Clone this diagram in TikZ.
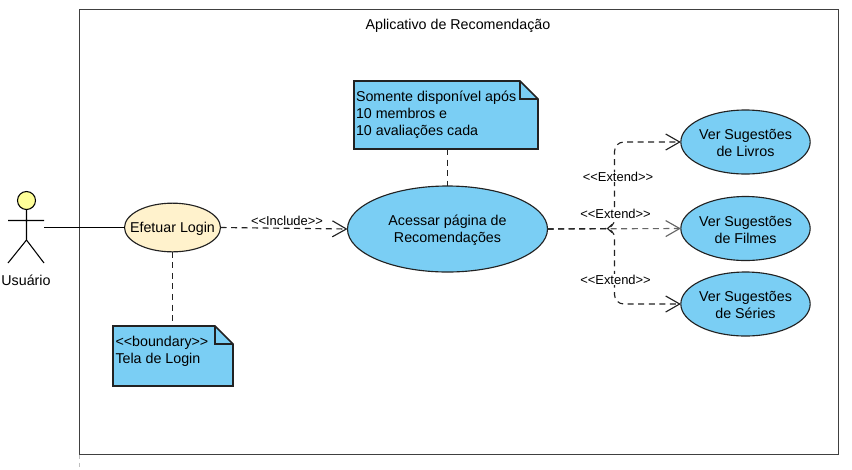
\documentclass[tikz,border=0pt]{standalone}
\usepackage{fontspec}
\setmainfont{Liberation Sans}
\usetikzlibrary{shapes.geometric,arrows.meta,calc}
\definecolor{ucblue}{HTML}{7ACEF4}
\definecolor{ucyellow}{HTML}{FFF2CC}
\definecolor{headyellow}{HTML}{FFFF99}
\definecolor{linegrey}{HTML}{222222}
\tikzset{
  x=0.75pt,y=-0.75pt,
  every node/.style={font=\fontsize{10.7pt}{12.9pt}\selectfont,inner sep=0pt,outer sep=0pt,text=black},
  usecase/.style={ellipse,draw=linegrey,line width=0.85pt,fill=ucblue},
  uctext/.style={label={[yshift=-0.8pt,align=center]center:#1}},
  notebody/.style={rectangle,fill=ucblue,align=left,anchor=north west},
  noteline/.style={draw=linegrey,line width=1.2pt,line join=miter},
  small/.style={font=\fontsize{9.7pt}{11pt}\selectfont,fill=white,inner sep=0.5pt},
  dep/.style={draw=linegrey,line width=0.85pt,dash pattern=on 4.5pt off 3.4pt},
  greydep/.style={draw=black!60,line width=0.85pt,dash pattern=on 4.5pt off 3.4pt},
  openhead/.style={-{Straight Barb[length=10.5pt,width=12pt,line width=0.85pt]}},
}
\begin{document}
\begin{tikzpicture}
\useasboundingbox (0,0) rectangle (852,469);
% system frame
\draw[draw=black!75,line width=0.8pt] (79.5,9.5) rectangle (838.5,454.5);
\coordinate (frameBL) at (79.5,454.5);
\coordinate (frameEnd) at (79.5,469);
\draw[draw=black!25,line width=0.6pt,dash pattern=on 3pt off 3pt] (frameBL) -- (frameEnd);
\node (title) at (458,25.5) {Aplicativo de Recomendação};
% actor
\node[circle,draw=black,line width=0.8pt,fill=headyellow,minimum size=13.5pt] (head) at (26.5,200.5) {};
\coordinate (hip) at (26.5,240);
\coordinate (armL) at (8,220.5);
\coordinate (armR) at (44,220.5);
\coordinate (legL) at (8,263);
\coordinate (legR) at (44,263);
\coordinate (actorPort) at (44,227.5);
\draw[line width=0.8pt,line join=round] (head.south) -- (hip) (armL) -- (armR) (legL) -- (hip) -- (legR);
\node (actorlabel) at (26,280.5) {Usuário};
% use cases
\node[usecase,fill=ucyellow,minimum width=72pt,minimum height=36.5pt,uctext={Efetuar Login}] (login) at (172.5,227.5) {};
\node[usecase,minimum width=150pt,minimum height=64.5pt,uctext={Acessar página de\\Recomendações}] (rec) at (447.5,229) {};
\node[usecase,minimum width=97pt,minimum height=48pt,uctext={Ver Sugestões\\de Livros}] (livros) at (745.5,142) {};
\node[usecase,minimum width=97pt,minimum height=48pt,uctext={Ver Sugestões\\de Filmes}] (filmes) at (745.5,228.5) {};
\node[usecase,minimum width=97pt,minimum height=48pt,uctext={Ver Sugestões\\de Séries}] (series) at (745.5,304) {};
% notes
\node[notebody,minimum width=90pt,minimum height=45pt] (bnote) at (113,326) {};
\path[fill=white] ($(bnote.north east)+(-18,0)$) -- (bnote.north east) -- ($(bnote.north east)+(0,18)$) -- cycle;
\draw[noteline] (bnote.north west) -- ($(bnote.north east)+(-18,0)$) -- ($(bnote.north east)+(0,18)$) -- (bnote.south east) -- (bnote.south west) -- cycle;
\draw[draw=linegrey,line width=0.9pt] ($(bnote.north east)+(-18,0)$) |- ($(bnote.north east)+(0,18)$);
\node[anchor=north west,align=left] (btext) at (115.5,336) {<{}<boundary>{}>\\Tela de Login};
\node[notebody,minimum width=138pt,minimum height=51pt] (snote) at (354,81) {};
\path[fill=white] ($(snote.north east)+(-18,0)$) -- (snote.north east) -- ($(snote.north east)+(0,18)$) -- cycle;
\draw[noteline] (snote.north west) -- ($(snote.north east)+(-18,0)$) -- ($(snote.north east)+(0,18)$) -- (snote.south east) -- (snote.south west) -- cycle;
\draw[draw=linegrey,line width=0.9pt] ($(snote.north east)+(-18,0)$) |- ($(snote.north east)+(0,18)$);
\node[anchor=north west,align=left] (stext) at (356,91) {Somente disponível após\\10 membros e\\10 avaliações cada};
% connectors
\draw[draw=black,line width=0.85pt] (actorPort) -- (login.west);
\draw[dep] (login.south) -- (bnote.north -| login.south);
\draw[dep] (snote.south -| rec.north) -- (rec.north);
\draw[dep,openhead] (login.east) -- (rec.west);
\coordinate (branch) at (614.5,228.5);
\coordinate (tick) at (607.5,228.5);
\draw[greydep,openhead] (rec.east) -- (filmes.west);
\draw[dep,rounded corners=7pt,openhead] (rec.east) -- (branch) |- (livros.west);
\draw[dep,rounded corners=7pt,openhead] (rec.east) -- (branch) |- (series.west);
\draw[draw=linegrey,line width=0.85pt] ($(tick)+(4.5,-4)$) -- (tick) -- ($(tick)+(4.5,4)$);
% labels
\node[small] (linc) at (287,221) {<{}<Include>{}>};
\node[small] (le1) at (618,177) {<{}<Extend>{}>};
\node[small] (le2) at (615.5,213.5) {<{}<Extend>{}>};
\node[small] (le3) at (615.5,279.5) {<{}<Extend>{}>};
\end{tikzpicture}
\end{document}
